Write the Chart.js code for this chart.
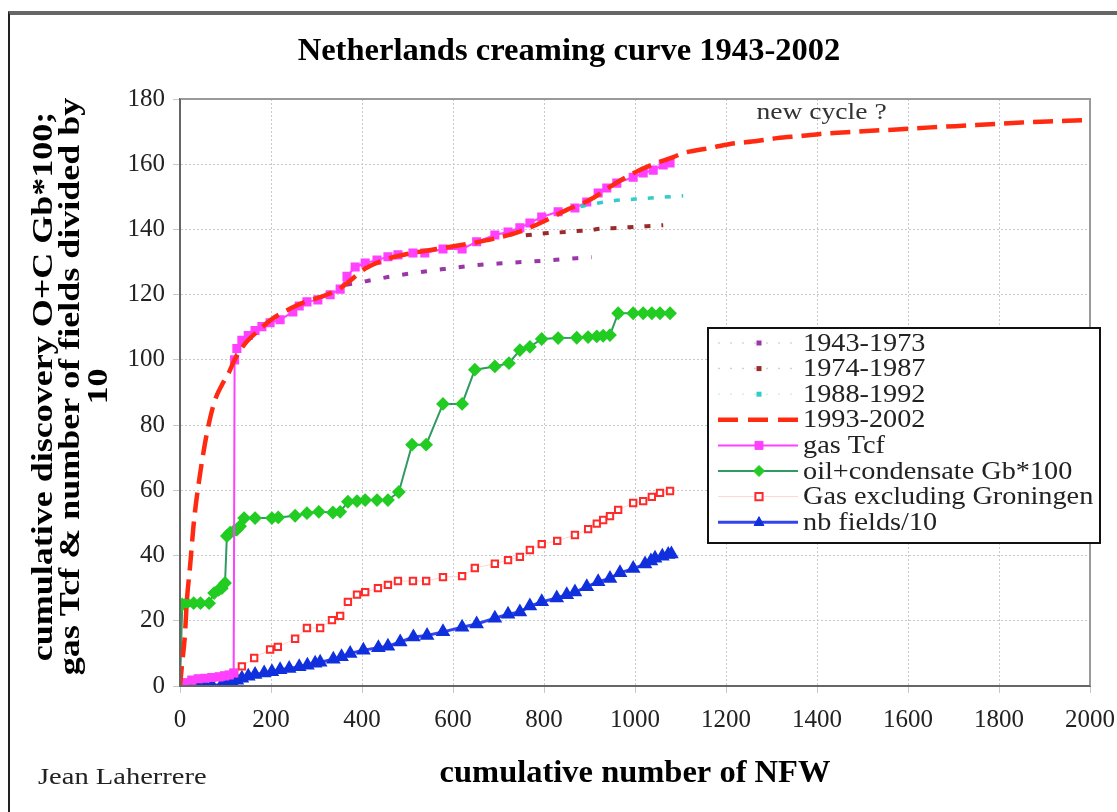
<!DOCTYPE html>
<html>
<head>
<meta charset="utf-8">
<script src="https://cdn.jsdelivr.net/npm/chart.js@4.4.1/dist/chart.umd.min.js"></script>
<style>
html,body{margin:0;padding:0;background:#fff}
#wrap{position:relative;width:1117px;height:812px;overflow:hidden;background:#fff}
#frame{position:absolute;left:8px;top:11px;width:1200px;height:900px;border-top:4px solid #666;border-left:2px solid #222}
canvas{position:absolute;left:0;top:0}
</style>
</head>
<body>
<div id="wrap"><div id="frame"></div><canvas id="c" width="1117" height="812"></canvas></div>
<script>
// fitted creaming curves (x = cumulative NFW)
const fit1993X = [0,4,11,15,22,31,42,55,66,77,92,108,121,143,174,202,246,275,303,352,380,407,457,512,578,650,700,750,800,850,900,950,1000,1040,1084,1106,1165,1209,1268,1312,1369,1407,1466,1510,1567,1650,1750,1850,1950,2000]
const fit1993Y = [0,6,16,26,36.5,51,63,74.5,82,87.7,92.3,96.3,100.3,105,109.2,112.5,116,117.8,119,122,125,128,131,132.8,134.3,136,137.5,139.5,142.5,146,149,153.5,157.5,160,162.2,163.4,165,166.2,167.1,168,168.7,169.3,169.8,170.2,170.6,171.3,172,172.8,173.3,173.6]
const fit1943X = [365,411,457,516,582,655,718,798,872,905]
const fit1943Y = [123,124.2,125.4,126.7,127.9,129.1,129.7,130.4,131.2,131.5]
const fit1974X = [760,802,835,872,901,923,967,1000,1026,1062]
const fit1974Y = [138.2,138.8,139.1,139.5,139.8,140.2,140.5,140.8,141,141.3]
const fit1988X = [880,901,952,1000,1050,1106]
const fit1988Y = [147,147.6,148.8,149.3,149.8,150.3]

// discovered volumes
const gasX = [0,10,26,40,55,70,86,98,108,118,120,125,136,150,165,180,198,220,248,262,279,303,330,352,367,385,407,433,457,479,512,538,578,620,652,692,721,747,769,795,831,868,894,919,938,960,996,1018,1040,1062,1077]
const gasY = [0,1,1.8,2.2,2.4,2.6,2.8,3.1,3.4,4,100,103.5,106,107.5,109,110.2,111.4,112.3,114.7,116.5,117.8,118.4,120,121.7,125.6,128.5,129.7,130.6,131.6,132.2,132.8,132.8,134,134,136.2,138.3,139.2,140.5,142,143.8,145.4,146.6,148.4,151.2,152.7,154.2,156,157.3,158.2,159.8,160.4]
const oilX = [0,5,15,30,45,64,75,85,92,99,103,110,118,125,132,141,165,202,216,253,279,305,336,352,369,389,407,433,457,481,510,541,578,620,648,692,723,747,769,795,831,872,897,916,930,945,963,996,1018,1037,1055,1077]
const oilY = [0,25,25.4,25.4,25.4,25.4,28.5,29.5,30,31.6,46,47,47.5,48,49,51.5,51.5,51.5,51.7,52.2,53,53.4,53.2,53.4,56.5,56.7,57,57,57,59.5,74,74,86.5,86.5,97,98,99,103,104,106.4,106.7,106.8,107,107.2,107.4,107.6,114.3,114.3,114.3,114.3,114.3,114.3]
const gasExGrX = [0,10,26,40,55,70,86,98,108,119,136,163,198,215,253,279,308,334,352,369,389,407,435,457,479,512,541,578,620,648,692,721,747,769,795,829,868,897,916,930,945,963,996,1018,1037,1055,1077]
const gasExGrY = [0,1,1.8,2.2,2.4,2.6,2.8,3.1,3.4,4,6,8.6,11.2,12,14.5,17.8,17.8,20.2,21.5,25.8,28,28.8,30,31,32.2,32.2,32.2,33.4,33.7,36.2,37.5,38.6,39.6,41.7,43.5,44.5,46.3,48.1,49.8,50.9,52.1,54,56.1,56.7,58,59.2,59.8]
const fieldsX = [0,20,40,55,70,92,105,114,125,136,150,165,185,202,220,240,262,280,297,308,337,355,374,403,436,457,484,513,543,578,620,652,692,721,747,769,795,828,850,868,894,919,945,967,996,1022,1035,1044,1060,1073,1080]
const fieldsY = [0,0,0,0.1,0.2,0.4,0.8,1.2,1.8,2.4,3,3.5,4,4.4,5,5.4,5.9,6.4,7,7.3,8.2,9,10,11,11.7,12.2,13.5,15,15.5,16.6,18,19,20.8,22,22.7,24.5,25.8,27,28,28.8,30.4,32,33,34.7,36,37.4,38.3,39.2,39.8,40.3,40.5]

const xTicks = {min:0, max:2000, step:200}
const yTicks = {min:0, max:180, step:20}
const yTitle = ['cumulative discovery O+C Gb*100;','gas Tcf & number of fields divided by','10']

const SERIF = "'Liberation Serif', 'Times New Roman', serif"

function pts(xs, ys){ return xs.map((x,i)=>({x:x, y:ys[i]})) }

const datasets = [
  {label:'1993-2002', data:pts(fit1993X,fit1993Y), borderColor:'#ff2a10', borderWidth:4.5, borderDash:[20,9], pointRadius:0, cubicInterpolationMode:'monotone', leg:'dash'},
  {label:'1943-1973', data:pts(fit1943X,fit1943Y), borderColor:'#9a36a8', borderWidth:4, borderDash:[6,13], pointRadius:0, cubicInterpolationMode:'monotone', leg:'dot'},
  {label:'1974-1987', data:pts(fit1974X,fit1974Y), borderColor:'#9b2a2a', borderWidth:4, borderDash:[6,11], pointRadius:0, cubicInterpolationMode:'monotone', leg:'dot'},
  {label:'1988-1992', data:pts(fit1988X,fit1988Y), borderColor:'#33cccc', borderWidth:3.5, borderDash:[6,11], pointRadius:0, cubicInterpolationMode:'monotone', leg:'dot'},
  {label:'gas Tcf', data:pts(gasX,gasY), borderColor:'#ff40ff', borderWidth:2, pointStyle:'rect', pointRadius:5, pointBackgroundColor:'#ff40ff', pointBorderColor:'#ff40ff', leg:'line'},
  {label:'oil+condensate Gb*100', data:pts(oilX,oilY), borderColor:'#2f9a62', borderWidth:2, pointStyle:'rectRot', pointRadius:5.5, pointBackgroundColor:'#22cc22', pointBorderColor:'#22cc22', leg:'line'},
  {label:'Gas excluding Groningen', data:pts(gasExGrX,gasExGrY), borderColor:'#ffd6d6', borderWidth:1, pointStyle:'rect', pointRadius:4.5, pointBackgroundColor:'#ffffff', pointBorderColor:'#ff2a2a', pointBorderWidth:2, leg:'faint'},
  {label:'nb fields/10', data:pts(fieldsX,fieldsY), borderColor:'#3344ee', borderWidth:3, pointStyle:'triangle', pointRadius:5.5, pointBackgroundColor:'#1030dd', pointBorderColor:'#1030dd', leg:'line'}
]
datasets.forEach(d=>{ d.tension = 0; d.fill = false })

const legendOrder = ['1943-1973','1974-1987','1988-1992','1993-2002','gas Tcf','oil+condensate Gb*100','Gas excluding Groningen','nb fields/10']

function marker(ctx, style, x, y, r, fill, stroke, lw){
  ctx.save()
  ctx.fillStyle = fill; ctx.strokeStyle = stroke; ctx.lineWidth = lw || 1
  ctx.setLineDash([])
  ctx.beginPath()
  if(style==='rect'){ ctx.rect(x-r*0.8,y-r*0.8,r*1.6,r*1.6) }
  else if(style==='rectRot'){ ctx.moveTo(x,y-r); ctx.lineTo(x+r,y); ctx.lineTo(x,y+r); ctx.lineTo(x-r,y); ctx.closePath() }
  else if(style==='triangle'){ ctx.moveTo(x,y-r); ctx.lineTo(x+r*0.9,y+r*0.6); ctx.lineTo(x-r*0.9,y+r*0.6); ctx.closePath() }
  ctx.fill(); ctx.stroke()
  ctx.restore()
}

// text drawn slightly widened, like the original picture
function wideText(ctx, text, x, y, sx, align, rot){
  ctx.save()
  ctx.translate(x, y)
  if(rot) ctx.rotate(rot)
  ctx.scale(sx, 1)
  ctx.textAlign = align
  ctx.fillText(text, 0, 0)
  ctx.restore()
}

const decor = {
  id:'decor',
  afterDraw(chart){
    const ctx = chart.ctx
    const a = chart.chartArea
    const xs = chart.scales.x, ys = chart.scales.y
    ctx.save()
    // plot frame
    ctx.strokeStyle = '#9a9a9a'; ctx.lineWidth = 2
    ctx.beginPath(); ctx.moveTo(a.left, a.top); ctx.lineTo(a.right, a.top); ctx.lineTo(a.right, a.bottom); ctx.stroke()
    ctx.strokeStyle = '#666'
    ctx.beginPath(); ctx.moveTo(a.left, a.top); ctx.lineTo(a.left, a.bottom); ctx.lineTo(a.right, a.bottom); ctx.stroke()

    ctx.textBaseline = 'middle'
    // title
    ctx.fillStyle = '#000'
    ctx.font = 'bold 31px ' + SERIF
    wideText(ctx, 'Netherlands creaming curve 1943-2002', 569, 52, 1.05, 'center')

    // y axis title (rotated)
    ctx.font = 'bold 30px ' + SERIF
    const yc = (a.top + a.bottom) / 2 - 6
    yTitle.forEach((t, i)=> wideText(ctx, t, 44 + i*27.5, yc, 1.2, 'center', -Math.PI/2))

    // annotation
    ctx.font = '23px ' + SERIF; ctx.fillStyle = '#333'
    wideText(ctx, 'new cycle ?', xs.getPixelForValue(1410), ys.getPixelForValue(175.6), 1.2, 'center')

    // author
    ctx.font = '23px ' + SERIF; ctx.fillStyle = '#222'
    wideText(ctx, 'Jean Laherrere', 38, 778, 1.24, 'left')

    // legend box
    const L = 708, T = 328, W = 392, H = 215
    ctx.fillStyle = '#fff'; ctx.fillRect(L, T, W, H)
    ctx.strokeStyle = '#111'; ctx.lineWidth = 2; ctx.strokeRect(L, T, W, H)
    ctx.font = '25px ' + SERIF
    legendOrder.forEach((name, i)=>{
      const d = datasets.find(s=>s.label===name)
      const y = T + 15 + i*25.6
      const x0 = L + 10, x1 = L + 90, xm = L + 51
      ctx.save()
      if(d.leg==='dash'){
        ctx.strokeStyle = d.borderColor; ctx.lineWidth = 4.5; ctx.setLineDash([20,10])
        ctx.beginPath(); ctx.moveTo(x0, y); ctx.lineTo(x1, y); ctx.stroke()
      } else if(d.leg==='dot'){
        ctx.strokeStyle = d.borderColor; ctx.globalAlpha = 0.25; ctx.lineWidth = 1.5; ctx.setLineDash([2,10])
        ctx.beginPath(); ctx.moveTo(x0, y); ctx.lineTo(x1, y); ctx.stroke()
        ctx.globalAlpha = 1; ctx.fillStyle = d.borderColor; ctx.fillRect(xm-2.5, y-2.5, 5, 5)
      } else {
        ctx.strokeStyle = d.borderColor; ctx.lineWidth = d.borderWidth; ctx.setLineDash([])
        ctx.beginPath(); ctx.moveTo(x0, y); ctx.lineTo(x1, y); ctx.stroke()
        marker(ctx, d.pointStyle, xm, y, d.pointRadius, d.pointBackgroundColor, d.pointBorderColor, d.pointBorderWidth || 1)
      }
      ctx.restore()
      ctx.fillStyle = '#222'
      wideText(ctx, name, L + 95, y + 1, 1.13, 'left')
    })
    ctx.restore()
  }
}

new Chart(document.getElementById('c'), {
  type:'line',
  data:{datasets:datasets},
  options:{
    responsive:false,
    animation:false,
    devicePixelRatio:1,
    layout:{padding:{top:99, right:27, left:0, bottom:0}},
    plugins:{legend:{display:false}, tooltip:{enabled:false}, title:{display:false}},
    scales:{
      x:{
        type:'linear', min:xTicks.min, max:xTicks.max,
        ticks:{stepSize:xTicks.step, color:'#222', padding:12, font:{family:SERIF, size:25}, callback:v=>String(v)},
        grid:{color:'#c8c8c8', tickLength:7, drawTicks:true},
        border:{display:true, color:'#666', width:2, dash:[2,2]},
        title:{display:true, text:'cumulative number of NFW', color:'#000', font:{family:SERIF, size:32.5, weight:'bold'}, padding:{top:0, bottom:19}},
        afterFit(s){ s.height = 126; s.paddingRight = 0; s.paddingLeft = 0 }
      },
      y:{
        type:'linear', min:yTicks.min, max:yTicks.max,
        ticks:{stepSize:yTicks.step, color:'#222', padding:8, font:{family:SERIF, size:25}, callback:v=>String(v)},
        grid:{color:'#c8c8c8', tickLength:7},
        border:{display:true, color:'#666', width:2, dash:[2,2]},
        title:{display:false},
        afterFit(s){ s.width = 180 }
      }
    }
  },
  plugins:[decor]
})
</script>
</body>
</html>
